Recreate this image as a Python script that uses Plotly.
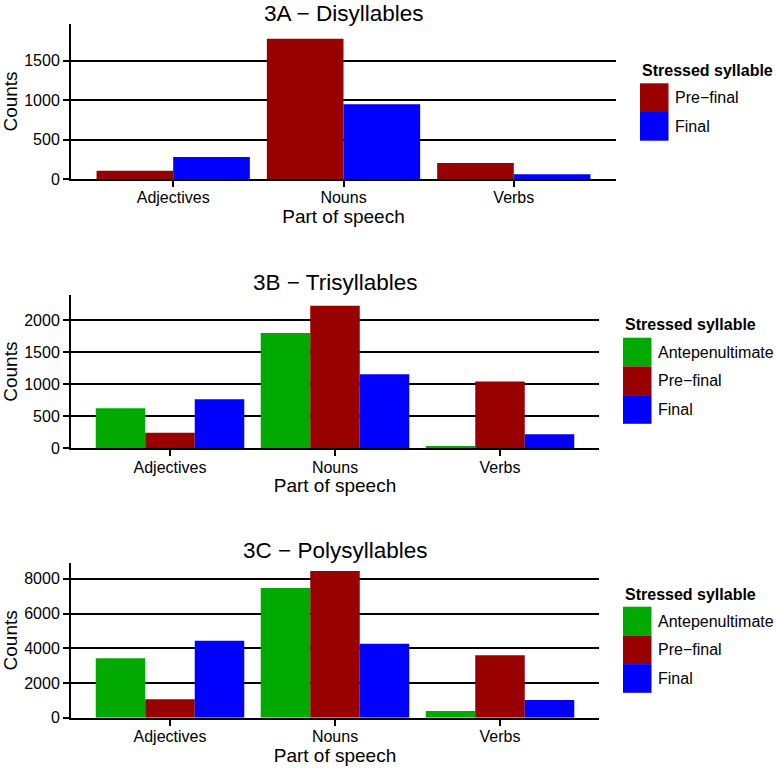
import plotly.graph_objects as go

# ---------------- data ----------------
categories = ["Adjectives", "Nouns", "Verbs"]
series_names = ["Antepenultimate", "Pre\u2212final", "Final"]
series_colors = ["#00AA00", "#990000", "#0000FF"]

# 3A - Disyllables (no antepenultimate)
a_prefinal = [105, 1776, 202]
a_final = [278, 945, 60]

# 3B - Trisyllables
b_antepen = [625, 1797, 36]
b_prefinal = [244, 2223, 1041]
b_final = [766, 1156, 219]

# 3C - Polysyllables
c_antepen = [3423, 7475, 386]
c_prefinal = [1060, 8455, 3596]
c_final = [4438, 4265, 1020]

panel_titles = ["3A \u2212 Disyllables", "3B \u2212 Trisyllables", "3C \u2212 Polysyllables"]
y_ticks = [[0, 500, 1000, 1500], [0, 500, 1000, 1500, 2000], [0, 2000, 4000, 6000, 8000]]
x_title = "Part of speech"
y_title = "Counts"
legend_title = "<b>Stressed syllable</b>"

panels = [
    {"series": [(1, a_prefinal), (2, a_final)], "ymax": 1962},
    {"series": [(0, b_antepen), (1, b_prefinal), (2, b_final)], "ymax": 2390},
    {"series": [(0, c_antepen), (1, c_prefinal), (2, c_final)], "ymax": 8916},
]

# ---------------- layout geometry (pixels of the 777x768 page) ----------------
W, H = 777, 768
FONT = "Liberation Sans, Arial, sans-serif"
boxes = [(71, 616, 24, 179), (71, 599, 295, 448.3), (71, 599, 563, 717.7)]
title_y = [13.5, 282, 550]
legends = [  # title_x, title_y, keys_top
    (640, 70, 83.3),
    (623, 325, 337.7),
    (623, 594.3, 606.7),
]
KEY_W, KEY_H, LABEL_DX = 28.5, 28.7, 32.5


def fx(x):
    return x / W


def fy(y):
    return 1 - y / H


fig = go.Figure()
layout = dict(
    width=W, height=H,
    margin=dict(l=0, r=0, t=0, b=0, autoexpand=False),
    paper_bgcolor="white", plot_bgcolor="white",
    barmode="group", bargap=0.1, bargroupgap=0,
    showlegend=False,
    font=dict(family=FONT, color="black", size=16),
)
annotations = []
shapes = []

for i, p in enumerate(panels):
    n = "" if i == 0 else str(i + 1)
    xa, ya = "x" + n, "y" + n
    for si, vals in p["series"]:
        fig.add_trace(go.Bar(
            x=categories, y=vals, name=series_names[si],
            marker=dict(color=series_colors[si], line=dict(width=0)),
            xaxis=xa, yaxis=ya,
        ))
    l, r, t, b = boxes[i]
    layout["xaxis" + n] = dict(
        domain=[fx(l), fx(r)], anchor=ya, range=[-0.6, 2.6],
        showline=True, linecolor="black", linewidth=2,
        ticks="outside", ticklen=6, tickwidth=1.5, tickcolor="black",
        ticklabelstandoff=-3,
        showgrid=False, zeroline=False, automargin=False,
        tickfont=dict(size=16, family=FONT, color="black"),
        title=dict(text=x_title, font=dict(size=19, family=FONT), standoff=1),
        fixedrange=True,
    )
    layout["yaxis" + n] = dict(
        domain=[fy(b), fy(t)], anchor=xa, range=[0, p["ymax"]],
        tickvals=y_ticks[i],
        showline=True, linecolor="black", linewidth=2,
        ticks="outside", ticklen=6, tickwidth=1.5, tickcolor="black",
        showgrid=True, gridcolor="black", gridwidth=1.5,
        zeroline=False, automargin=False,
        tickfont=dict(size=16, family=FONT, color="black"),
        title=dict(text=y_title, font=dict(size=19, family=FONT), standoff=13),
        fixedrange=True,
    )
    # panel title
    annotations.append(dict(
        text=panel_titles[i], x=fx((l + r) / 2), y=fy(title_y[i]),
        xref="paper", yref="paper", xanchor="center", yanchor="middle",
        showarrow=False, font=dict(size=22.5, family=FONT, color="black"),
    ))
    # legend
    lx, ly, ktop = legends[i]
    annotations.append(dict(
        text=legend_title, x=fx(lx), y=fy(ly), xref="paper", yref="paper",
        xanchor="left", yanchor="middle", showarrow=False,
        font=dict(size=16, family=FONT, color="black"),
    ))
    for k, (si, _) in enumerate(p["series"]):
        y0 = ktop + k * KEY_H
        shapes.append(dict(
            type="rect", xref="paper", yref="paper",
            x0=fx(lx), x1=fx(lx + KEY_W), y0=fy(y0), y1=fy(y0 + KEY_H),
            fillcolor=series_colors[si], line=dict(width=0),
        ))
        annotations.append(dict(
            text=series_names[si], x=fx(lx + LABEL_DX), y=fy(y0 + KEY_H / 2),
            xref="paper", yref="paper", xanchor="left", yanchor="middle",
            showarrow=False, font=dict(size=16, family=FONT, color="black"),
        ))

layout["annotations"] = annotations
layout["shapes"] = shapes
fig.update_layout(**layout)
fig.write_html(
    "out.html",
    config={"displayModeBar": False},
    post_script="document.body.style.margin='0px';document.body.style.overflow='hidden';",
)
